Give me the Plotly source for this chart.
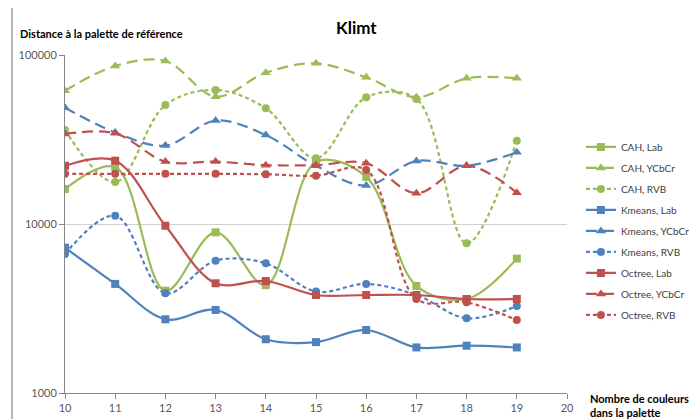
import plotly.graph_objects as go

x_vals = [10, 11, 12, 13, 14, 15, 16, 17, 18, 19]

cah_lab = [16100, 21700, 4030, 8930, 4350, 23300, 19000, 4300, 3600, 6240]
cah_ycbcr = [61500, 86100, 92200, 56700, 78500, 89300, 73800, 56200, 72800, 72800]
cah_rvb = [36000, 17700, 50600, 62100, 48400, 24500, 56200, 55000, 7690, 31100]
kmeans_lab = [7240, 4420, 2730, 3100, 2080, 2000, 2360, 1860, 1905, 1860]
kmeans_ycbcr = [48800, 34800, 29100, 40900, 33600, 22100, 16900, 23600, 22100, 26600]
kmeans_rvb = [6650, 11200, 3890, 6070, 5850, 3980, 4420, 3800, 2770, 3270]
octree_lab = [22100, 23700, 9770, 4460, 4600, 3800, 3800, 3800, 3600, 3600]
octree_ycbcr = [34100, 34400, 23400, 23400, 22300, 22300, 22900, 15200, 22100, 15300]
octree_rvb = [19800, 19800, 19800, 19800, 19700, 19300, 20900, 3600, 3440, 2700]

y_tick_vals = [1000, 10000, 100000]
y_tick_text = ["1000", "10000", "100000"]
x_tick_vals = [10, 11, 12, 13, 14, 15, 16, 17, 18, 19, 20]

GREEN = "#9BBB59"
BLUE = "#4F81BD"
RED = "#C0504D"
LONG = "11px,6px"
SHORT = "4px,3px"

series = [
    ("CAH, Lab", cah_lab, GREEN, "solid", "square"),
    ("CAH, YCbCr", cah_ycbcr, GREEN, LONG, "triangle-up"),
    ("CAH, RVB", cah_rvb, GREEN, SHORT, "circle"),
    ("Kmeans, Lab", kmeans_lab, BLUE, "solid", "square"),
    ("Kmeans, YCbCr", kmeans_ycbcr, BLUE, LONG, "triangle-up"),
    ("Kmeans, RVB", kmeans_rvb, BLUE, SHORT, "circle"),
    ("Octree, Lab", octree_lab, RED, "solid", "square"),
    ("Octree, YCbCr", octree_ycbcr, RED, LONG, "triangle-up"),
    ("Octree, RVB", octree_rvb, RED, SHORT, "circle"),
]

fig = go.Figure()
for name, vals, color, dash, sym in series:
    fig.add_trace(go.Scatter(
        x=x_vals, y=vals, name=name, legendgroup=name, mode="lines+markers",
        line=dict(color=color, width=2.2, dash=dash, shape="spline", smoothing=1),
        marker=dict(color=color, symbol=sym, size=8 if sym != "triangle-up" else 9),
    ))

FONT = "Lato, 'Open Sans', sans-serif"

fig.update_layout(
    width=697, height=419,
    margin=dict(l=57, r=138, t=47, b=34),
    paper_bgcolor="white", plot_bgcolor="white",
    showlegend=True,
    legend=dict(xref="container", yref="container", x=0.822, y=0.703,
                xanchor="left", yanchor="top",
                font=dict(family=FONT, size=10, color="#404040"),
                itemwidth=30, tracegroupgap=2, bgcolor="rgba(0,0,0,0)"),
    font=dict(family=FONT),
    xaxis=dict(range=[10, 20], tickvals=x_tick_vals, showgrid=False,
               showline=True, linecolor="#868686", linewidth=1,
               ticks="outside", ticklen=5, tickcolor="#868686",
               tickfont=dict(family=FONT, size=11, color="#595959"),
               zeroline=False, fixedrange=True, automargin=False),
    yaxis=dict(type="log", range=[3, 5], tickvals=y_tick_vals, ticktext=y_tick_text,
               showgrid=True, gridcolor="#D0D0D0", gridwidth=1,
               showline=True, linecolor="#868686", linewidth=1,
               ticks="outside", ticklen=5, tickcolor="#868686",
               tickfont=dict(family=FONT, size=11, color="#595959"),
               zeroline=False, fixedrange=True, automargin=False),
    annotations=[
        dict(text="<b>Klimt</b>", x=0.58, y=1.08, xref="paper", yref="paper",
             showarrow=False, font=dict(family=FONT, size=17, color="black"),
             xanchor="center", yanchor="middle"),
        dict(text="<b>Distance à la palette de référence</b>", x=-0.094, y=1.065,
             xref="paper", yref="paper", showarrow=False, xanchor="left", yanchor="middle",
             font=dict(family=FONT, size=11, color="black")),
        dict(text="<b>Nombre de couleurs<br>dans la palette</b>", x=1.042, y=-0.038,
             xref="paper", yref="paper", showarrow=False, xanchor="left", yanchor="middle",
             align="left", font=dict(family=FONT, size=11, color="black")),
    ],
    shapes=[
        dict(type="rect", xref="paper", yref="paper", x0=-0.1056, x1=1.4,
             y0=-0.2, y1=1.148, line=dict(color="#A0A0A0", width=1.5),
             fillcolor="rgba(0,0,0,0)", layer="below"),
    ],
)

fig.write_html("out.html")
